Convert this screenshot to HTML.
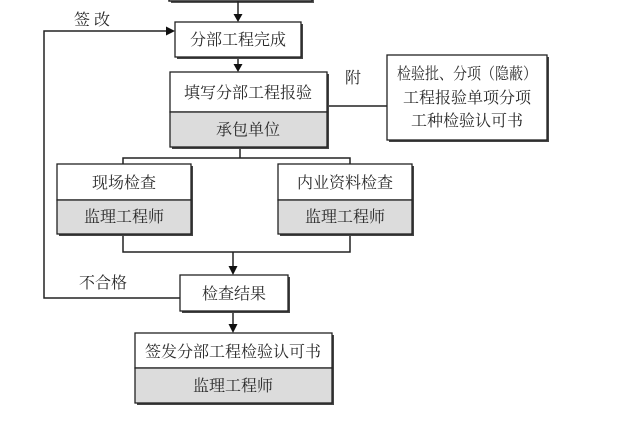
<!DOCTYPE html>
<html><head><meta charset="utf-8"><style>
html,body{margin:0;padding:0;background:#fff;}
svg{display:block;}
text{font-family:"Liberation Serif","Noto Serif CJK SC","Noto Sans CJK SC",serif;fill:#2a2a2a;font-size:16px;text-anchor:middle;}
</style></head><body>
<svg width="631" height="431" viewBox="0 0 631 431" xmlns="http://www.w3.org/2000/svg">
<g stroke="#222" stroke-width="1.5" fill="none">
<rect x="171" y="-5" width="143" height="8" fill="#555" stroke="none"/>
<rect x="169" y="-8" width="143" height="9" fill="#fff"/>
<line x1="238" y1="1" x2="238" y2="16"/>
<line x1="238" y1="57" x2="238" y2="66"/>
<polyline points="180,298 44,298 44,31 168,31"/>
<line x1="327" y1="106" x2="387" y2="106"/>
<polyline points="240,147 240,158"/>
<polyline points="123,164 123,158 350,158 350,164"/>
<polyline points="123,234 123,252 350,252 350,234"/>
<line x1="233" y1="252" x2="233" y2="268"/>
<line x1="233" y1="311" x2="233" y2="326"/>
</g>
<g fill="#111">
<polygon points="233.5,64 242.5,64 238,72"/>
<polygon points="233.5,14 242.5,14 238,22"/>
<polygon points="228.5,266 237.5,266 233,275"/>
<polygon points="228.5,324 237.5,324 233,333"/>
<polygon points="166,26.5 166,35.5 175,31"/>
</g>
<g fill="#444">
<rect x="177" y="24" width="126" height="35"/>
<rect x="172" y="74" width="157" height="75"/>
<rect x="389" y="57" width="160" height="85"/>
<rect x="59" y="166" width="134" height="70"/>
<rect x="280" y="166" width="134" height="70"/>
<rect x="182" y="277" width="108" height="36"/>
<rect x="137" y="335" width="197" height="70"/>
</g>
<g stroke="#222" stroke-width="1.3">
<rect x="175" y="22" width="126" height="35" fill="#fff"/>
<rect x="170" y="72" width="157" height="40" fill="#fff"/>
<rect x="170" y="112" width="157" height="35" fill="#dcdcdc"/>
<rect x="387" y="55" width="160" height="85" fill="#fff"/>
<rect x="57" y="164" width="134" height="36" fill="#fff"/>
<rect x="57" y="200" width="134" height="34" fill="#dcdcdc"/>
<rect x="278" y="164" width="134" height="36" fill="#fff"/>
<rect x="278" y="200" width="134" height="34" fill="#dcdcdc"/>
<rect x="180" y="275" width="108" height="36" fill="#fff"/>
<rect x="135" y="333" width="197" height="35" fill="#fff"/>
<rect x="135" y="368" width="197" height="35" fill="#dcdcdc"/>
</g>
<text x="238" y="45">分部工程完成</text>
<text x="248" y="98">填写分部工程报验</text>
<text x="248" y="135">承包单位</text>
<text x="353" y="83">附</text>
<text x="467" y="79" textLength="140" lengthAdjust="spacingAndGlyphs">检验批、分项（隐蔽）</text>
<text x="467" y="103">工程报验单项分项</text>
<text x="467" y="126">工种检验认可书</text>
<text x="124" y="188">现场检查</text>
<text x="124" y="222">监理工程师</text>
<text x="345" y="188">内业资料检查</text>
<text x="345" y="222">监理工程师</text>
<text x="234" y="299">检查结果</text>
<text x="233" y="357">签发分部工程检验认可书</text>
<text x="233" y="391">监理工程师</text>
<text x="92" y="25">签 改</text>
<text x="103" y="288">不合格</text>
</svg>
</body></html>
